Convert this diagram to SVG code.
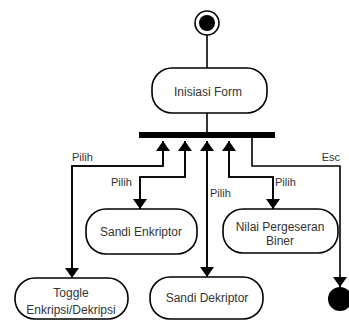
<svg xmlns="http://www.w3.org/2000/svg" width="349" height="320" viewBox="0 0 349 320">
<style>
.node{fill:#fff;stroke:#000;stroke-width:1.6}
.nt{font-family:"Liberation Sans",Arial,sans-serif;font-size:12px;fill:#333;text-anchor:middle}
.lbl{font-family:"Liberation Sans",Arial,sans-serif;font-size:11px;fill:#333}
.edge{fill:none;stroke:#000;stroke-width:1.6}
</style>
<defs>
<marker id="ah" viewBox="0 0 10 14" refX="10" refY="7" markerWidth="10" markerHeight="14" markerUnits="userSpaceOnUse" orient="auto">
<path d="M0,0 L10,7 L0,14 Z" fill="#000"/>
</marker>
</defs>
<rect width="349" height="320" fill="#fff"/>
<g id="connectors">
<line class="edge" x1="207" y1="35" x2="207" y2="68"/>
<line class="edge" x1="207" y1="113" x2="207" y2="132"/>
<path class="edge" d="M72,278 L72,166 L163,166 L163,141" marker-end="url(#ah)"/>
<path class="edge" d="M163,141 L163,166 L72,166 L72,278" marker-end="url(#ah)"/>
<path class="edge" d="M140,209 L140,177 L185,177 L185,141" marker-end="url(#ah)"/>
<path class="edge" d="M185,141 L185,177 L140,177 L140,209" marker-end="url(#ah)"/>
<path class="edge" d="M207,277 L207,141" marker-end="url(#ah)"/>
<path class="edge" d="M207,141 L207,277" marker-end="url(#ah)"/>
<path class="edge" d="M273,209 L273,177 L229,177 L229,141" marker-end="url(#ah)"/>
<path class="edge" d="M229,141 L229,177 L273,177 L273,209" marker-end="url(#ah)"/>
<path class="edge" d="M252,138 L252,166 L340,166 L340,287" marker-end="url(#ah)"/>
<text class="lbl" x="72" y="161">Pilih</text>
<text class="lbl" x="111" y="186">Pilih</text>
<text class="lbl" x="210" y="197">Pilih</text>
<text class="lbl" x="275" y="186">Pilih</text>
<text class="lbl" x="340" y="161" text-anchor="end">Esc</text>
</g>
<g id="start">
<circle cx="207" cy="23" r="12" fill="#fff" stroke="#000" stroke-width="1.6"/>
<circle cx="207" cy="23" r="8" fill="#000"/>
</g>
<g id="inisiasi">
<rect class="node" x="152" y="68" width="115" height="45" rx="20" ry="20"/>
<text class="nt" x="208" y="96">Inisiasi Form</text>
</g>
<g id="fork">
<rect x="139" y="132" width="136" height="6" fill="#000"/>
</g>
<g id="sandi-enkriptor">
<rect class="node" x="86" y="209" width="111" height="45" rx="20" ry="20"/>
<text class="nt" x="141" y="236">Sandi Enkriptor</text>
</g>
<g id="nilai">
<rect class="node" x="223" y="209" width="115" height="44" rx="20" ry="20"/>
<text class="nt" x="280" y="231">Nilai Pergeseran</text>
<text class="nt" x="280" y="245">Biner</text>
</g>
<g id="toggle">
<rect class="node" x="15" y="278" width="113" height="41" rx="20" ry="20"/>
<text class="nt" x="71" y="297">Toggle</text>
<text class="nt" x="71" y="314">Enkripsi/Dekripsi</text>
</g>
<g id="sandi-dekriptor">
<rect class="node" x="150" y="277" width="113" height="42" rx="20" ry="20"/>
<text class="nt" x="207" y="302">Sandi Dekriptor</text>
</g>
<g id="end">
<circle cx="340" cy="299" r="12" fill="#000"/>
</g>
</svg>
